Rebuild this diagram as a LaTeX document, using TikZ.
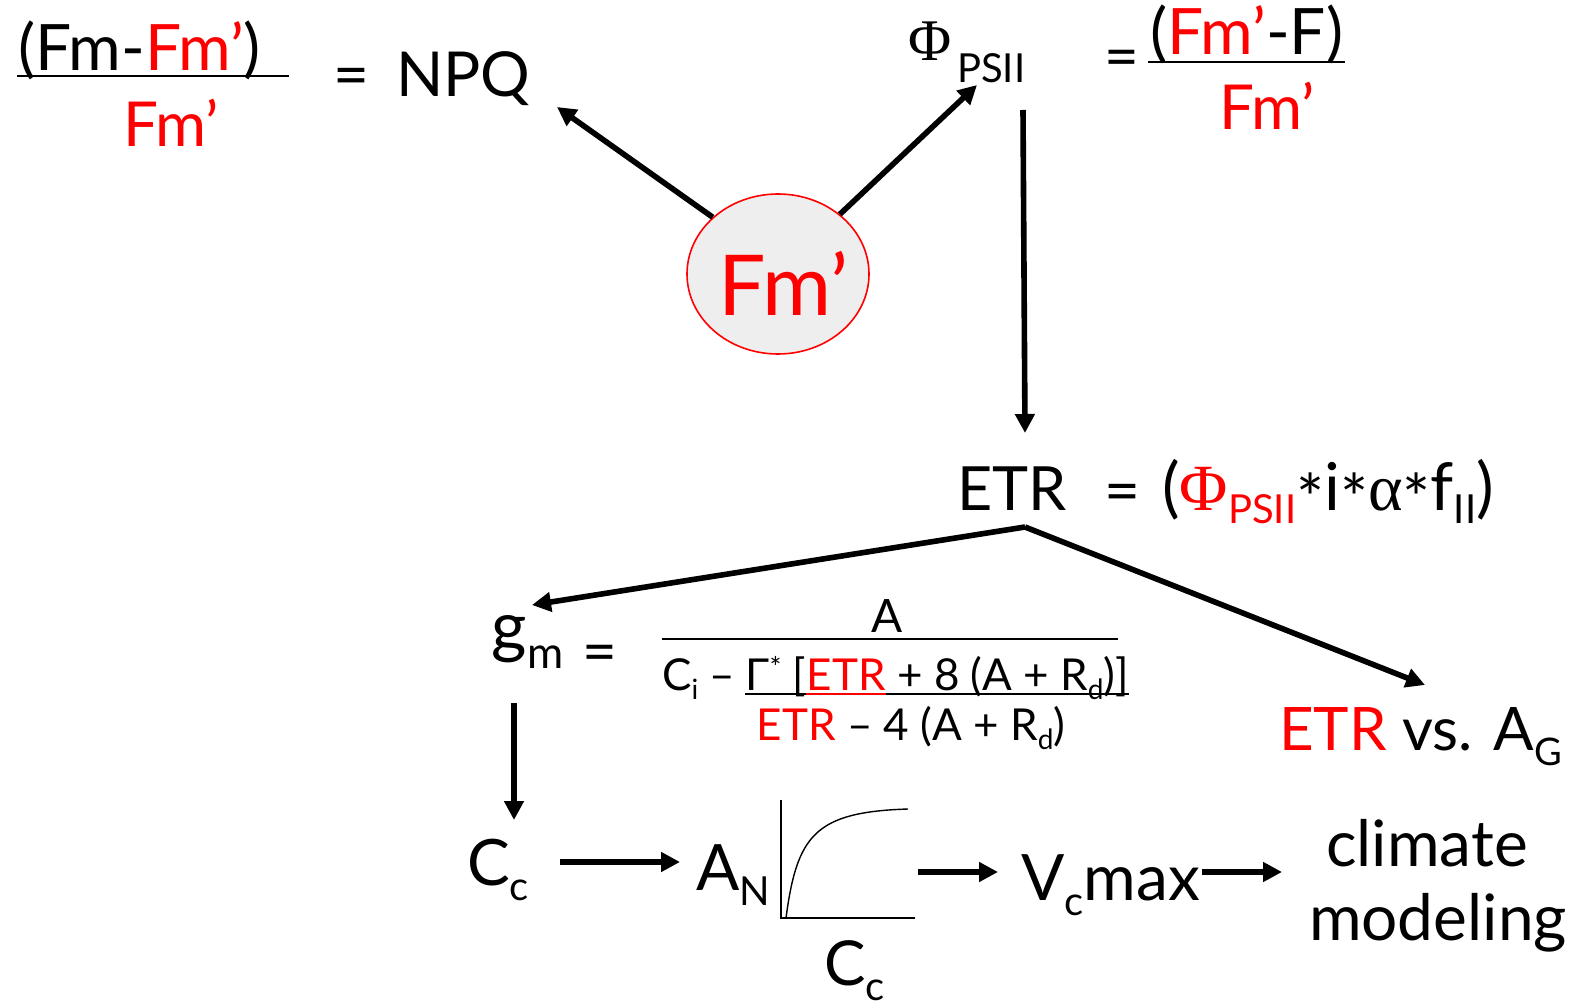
\documentclass[tikz,border=0pt]{standalone}
\usepackage{fontspec}
\setmainfont{Lato}
\newfontfamily\phifont{Liberation Serif}
\usetikzlibrary{arrows.meta,calc,shapes.geometric}
\newcommand\fsz[1]{\fontsize{#1}{#1}\selectfont}
\newcommand\lowast{\raisebox{-12pt}{*}}
\definecolor{rd}{RGB}{255,0,0}
\definecolor{circfill}{RGB}{238,238,238}
\begin{document}
\begin{tikzpicture}[x=1pt,y=-1pt,
  txt/.style={inner sep=0pt,anchor=base west},
  ctxt/.style={inner sep=0pt,anchor=base},
  arr/.style={line width=5.6pt,-{Triangle[length=19pt,width=19pt]}},
  fbar/.style={line width=2.6pt},
  thin/.style={line width=1.3pt}]
\useasboundingbox (0,0) rectangle (1575,1008);

% ---------- top left: NPQ ----------
\node[txt] (nnum) at (18,71) {\fsz{64}(Fm-\textcolor{rd}{Fm’})};
\node[txt] (nden) at (123,147) {\fsz{62}\textcolor{rd}{Fm’}};
\coordinate (nbarL) at (17,76);
\coordinate (nbarR) at (289,76);
\draw[fbar] (nbarL) -- (nbarR);
\node[txt] (neq) at (333,97) {\fsz{62}=};
\node[txt] (npq) at (396,97) {\fsz{62}NPQ};

% ---------- top right: PhiPSII ----------
\node[txt] (phi) at (908,61) {\fsz{59}\phifont Φ};
\node[txt] (psii) at (957,83) {\fsz{40}PSII};
\node[txt] (peq) at (1104,78) {\fsz{60}=};
\node[txt] (pnum) at (1150,55) {\fsz{64}(\textcolor{rd}{Fm’}-F)};
\coordinate (pbarL) at (1148,62);
\coordinate (pbarR) at (1345,62);
\draw[fbar] (pbarL) -- (pbarR);
\node[txt] (pden) at (1219,130) {\fsz{62}\textcolor{rd}{Fm’}};

% ---------- circle Fm' ----------
\node[ellipse, draw=rd, fill=circfill, line width=1.6pt,
      minimum width=182pt, minimum height=160pt, inner sep=0pt] (fm) at (778,274) {};
\node[inner sep=0pt] (fmt) at (783,283) {\fsz{84}\textcolor{rd}{Fm’}};

\coordinate (npqtip) at (557,107);
\coordinate (phitip) at (977,85);
\draw[arr] (fm.139) -- (npqtip);
\draw[arr] (fm.44) -- (phitip);

% ---------- ETR ----------
\coordinate (vtop) at (1023,110);
\coordinate (etrtip) at (1025,433);
\draw[arr] (vtop) -- (etrtip);
\node[txt] (etr) at (957,510) {\fsz{61}ETR};
\node[txt] (eeq) at (1104,512) {\fsz{62}=};
\node[txt] (eform) at (1162,510) {\fsz{66}(\textcolor{rd}{{\phifont Φ}\raisebox{-13pt}{\fsz{40}PSII}}\lowast i\lowast{\phifont α}\lowast f\raisebox{-13pt}{\fsz{40}II})};

\coordinate (apex) at (1025,527);
\coordinate (gmtip) at (532,605);
\coordinate (agtip) at (1425,685);
\draw[arr] (apex) -- (gmtip);
\draw[arr] (apex) -- (agtip);

% ---------- gm ----------
\node[txt] (g) at (491,650) {\fsz{68}g};
\node[txt] (m) at (527,668) {\fsz{44}m};
\node[txt] (geq) at (582,672) {\fsz{60}=};
\coordinate (gbarL) at (662,639);
\coordinate (gbarR) at (1118,639);
\draw[thin] (gbarL) -- (gbarR);
\node[ctxt] (ga) at (887,632) {\fsz{46}A};
\node[txt] (ci) at (662,690) {\fsz{44}C\raisebox{-9pt}{\fsz{28}i}\ –};
\node[txt,xshift=10pt] (d1) at (ci.base east) {\fsz{44}Γ\raisebox{13pt}{\fsz{28}*} [};
\node[txt] (d2) at (d1.base east) {\fsz{44}\textcolor{rd}{ETR}};
\node[txt] (d3) at (d2.base east) {\fsz{44}\ + 8 (A + R\raisebox{-9pt}{\fsz{28}d})]};
\draw[thin] (d1.west |- 0,694) -- (d3.east |- 0,694);
\draw[thin,draw=rd] (d2.west |- 0,694) -- (d2.east |- 0,694);
\node[ctxt] (d4) at (911,740) {\fsz{44}\textcolor{rd}{ETR} – 4 (A + R\raisebox{-9pt}{\fsz{28}d})};

% ---------- ETR vs AG ----------
\node[txt] (evs) at (1279,750) {\fsz{60}\textcolor{rd}{ETR} vs. A};
\node[txt] (gsub) at (evs.base east) {\raisebox{-15pt}{\fsz{38}G}};

% ---------- bottom row ----------
\coordinate (gmbot) at (514,703);
\coordinate (cctip) at (514,820);
\draw[arr] (gmbot) -- (cctip);
\node[txt] (cc) at (467,885) {\fsz{64}C\raisebox{-15pt}{\fsz{40}c}};
\coordinate (a1s) at (560,862);
\coordinate (a1e) at (680,862);
\draw[arr] (a1s) -- (a1e);
\node[txt] (an) at (696,890) {\fsz{64}A\raisebox{-15pt}{\fsz{40}N}};

% graph
\coordinate (ytop) at (781,800);
\coordinate (orig) at (781,918);
\coordinate (xend) at (915,918);
\draw[thin] (ytop) -- (orig) -- (xend);
\coordinate (c0) at (786,918);
\coordinate (c3) at (908,809);
\draw[line width=1.4pt] (c0) .. controls (797,835) and (815,812) .. (c3);
\node[txt] (cc2) at (824,985) {\fsz{62}C\raisebox{-15pt}{\fsz{40}c}};

\coordinate (a2s) at (918,872);
\coordinate (a2e) at (998,872);
\draw[arr] (a2s) -- (a2e);
\node[txt] (vc) at (1021,900) {\fsz{64}V\raisebox{-15pt}{\fsz{40}c}max};
\coordinate (a3s) at (1202,872);
\coordinate (a3e) at (1282,872);
\draw[arr] (a3s) -- (a3e);
\node[ctxt] (clim) at (1427,866) {\fsz{64}climate};
\node[ctxt] (model) at (1438,940) {\fsz{64}modeling};
\end{tikzpicture}
\end{document}
